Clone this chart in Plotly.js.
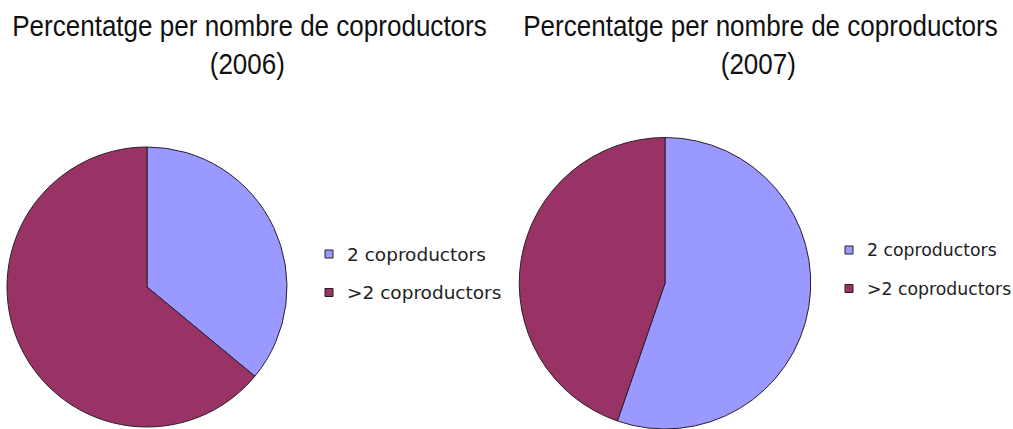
<!DOCTYPE html>
<html>
<head>
<meta charset="utf-8">
<script src="https://cdn.plot.ly/plotly-3.0.1.min.js"></script>
<style>
  html, body { margin: 0; padding: 0; background: #ffffff; }
  #chart { width: 1013px; height: 429px; }
</style>
</head>
<body>
<div id="chart"></div>
<script>
// ---- Data ----
const categories = ["2 coproductors", ">2 coproductors"];
const values2006 = [36, 64];
const values2007 = [55.3, 44.7];
const years = ["2006", "2007"];
const titleText = "Percentatge per nombre de coproductors";
const sliceColors = ["#9999FF", "#993366"];

const W = 1013, H = 429;
const px = v => v / W;
const py = v => 1 - v / H;

const pieCommon = {
  type: "pie",
  labels: categories,
  sort: false,
  direction: "clockwise",
  rotation: 0,
  textinfo: "none",
  hoverinfo: "label+percent",
  showlegend: false,
  marker: { colors: sliceColors, line: { color: "#2a1f2a", width: 1 } }
};

const traces = [
  Object.assign({}, pieCommon, {
    values: values2006,
    name: years[0],
    domain: { x: [px(7), px(287)], y: [py(427), py(147)] }
  }),
  Object.assign({}, pieCommon, {
    values: values2007,
    name: years[1],
    domain: { x: [px(519.25), px(810.75)], y: [0, py(137.5)] }
  })
];

// Titles (two lines each)
const titleFont = { family: "'Liberation Sans', Arial, sans-serif", size: 30, color: "#111111" };
const titleCenters = [249.5, 760.5];
const annotations = [];
titleCenters.forEach((cx, i) => {
  annotations.push({ xref: "paper", yref: "paper", x: px(cx), y: py(25), xanchor: "center", yanchor: "middle",
    text: titleText, showarrow: false, font: titleFont });
  annotations.push({ xref: "paper", yref: "paper", x: px(cx - 2), y: py(63), xanchor: "center", yanchor: "middle",
    text: "(" + years[i] + ")", showarrow: false, font: titleFont });
});
const nTitleAnn = annotations.length;

// Legends (manual, built from categories and colors)
const legendPos = [ { x: 325, tx: 345, ys: [254, 292.5], fs: 18.5 }, { x: 845, tx: 865, ys: [250, 288.5], fs: 17.3 } ];
const shapes = [];
legendPos.forEach(lp => {
  categories.forEach((cat, j) => {
    const yc = lp.ys[j];
    shapes.push({ type: "rect", xref: "paper", yref: "paper",
      x0: px(lp.x), x1: px(lp.x + 8), y0: py(yc + 4), y1: py(yc - 4),
      fillcolor: sliceColors[j], line: { color: "#222222", width: 1 } });
    annotations.push({ xref: "paper", yref: "paper", x: px(lp.tx), y: py(yc), xanchor: "left", yanchor: "middle",
      text: cat, showarrow: false,
      font: { family: "'DejaVu Sans', Verdana, sans-serif", size: lp.fs, color: "#222222" } });
  });
});

const layout = {
  width: W, height: H,
  margin: { l: 0, r: 0, t: 0, b: 0 },
  paper_bgcolor: "#ffffff",
  plot_bgcolor: "#ffffff",
  showlegend: false,
  annotations: annotations,
  shapes: shapes
};

Plotly.newPlot("chart", traces, layout, { displayModeBar: false, staticPlot: true }).then(gd => {
  // condense the title text horizontally (narrow-font look)
  const sx = 0.868;
  gd.querySelectorAll("g.annotation").forEach(g => {
    const idx = +g.getAttribute("data-index");
    if (idx >= nTitleAnn) return;
    const t = g.querySelector("text.annotation-text");
    if (!t) return;
    const bb = t.getBBox();
    const cx = bb.x + bb.width / 2;
    t.setAttribute("transform", "translate(" + cx + ",0) scale(" + sx + ",1) translate(" + (-cx) + ",0)");
  });
});
</script>
</body>
</html>
